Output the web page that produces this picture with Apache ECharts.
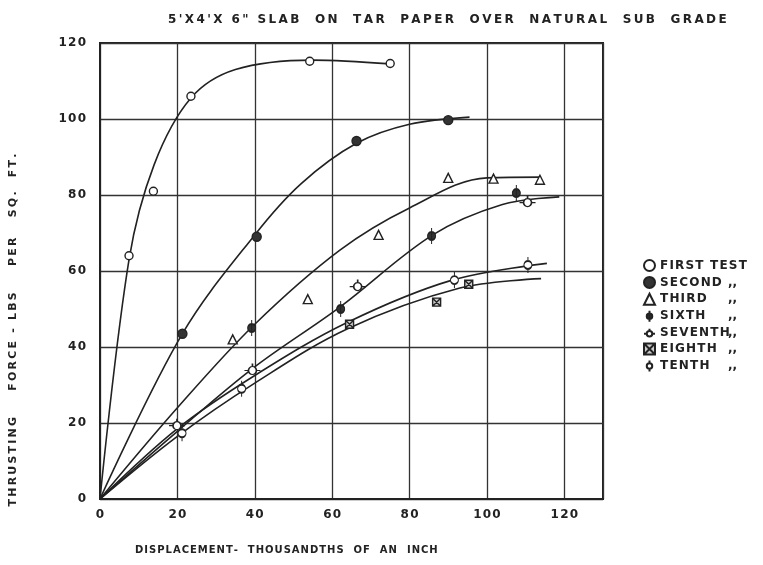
<!DOCTYPE html>
<html>
<head>
<meta charset="utf-8">
<script src="https://cdn.jsdelivr.net/npm/echarts@6/dist/echarts.min.js"></script>
<style>
  html, body { margin: 0; padding: 0; background: #fff; }
  #chart { width: 763px; height: 565px; }
</style>
</head>
<body>
<div id="chart"></div>
<script>
var firstTest   = [[7.5, 64], [13.8, 81], [23.5, 106], [54.2, 115.2], [75, 114.6]];
var secondTest  = [[21.3, 43.5], [40.5, 69], [66.3, 94.2], [90, 99.7]];
var thirdTest   = [[34.3, 42], [53.7, 52.6], [72, 69.5], [90, 84.5], [101.7, 84.3], [113.7, 84]];
var sixthTest   = [[39.2, 45], [62.2, 50], [85.7, 69.2], [107.6, 80.5]];
var seventhTest = [[19.9, 19.7], [39.4, 34.2], [66.6, 56.3], [110.5, 78.4]];
var eighthTest  = [[64.5, 46], [87, 51.8], [95.3, 56.5]];
var tenthTest   = [[21.2, 17.3], [36.6, 29], [91.6, 57.6], [110.6, 61.6]];

// faired curves drawn through the points
var firstCurve  = [[0, 0], [7.5, 63], [14, 88], [23.5, 105.5], [35, 113], [55, 115.5], [75, 114.5]];
var secondCurve = [[0, 0], [21.3, 43.5], [40, 69.5], [52, 83], [66.3, 93.6], [80, 98.6], [95.5, 100.5]];
var thirdCurve  = [[0, 0], [20, 24], [40, 46], [62, 65.5], [80, 76.6], [100, 84.5], [114, 84.7]];
var sixthCurve  = [[0, 0], [20, 17.8], [39.5, 34.4], [62, 50.5], [86, 69.5], [104, 77.5], [118.7, 79.5]];
var tenthCurve  = [[0, 0], [20, 18.5], [40, 32.5], [64, 46.5], [91, 57.6], [115.5, 62]];
var eighthCurve = [[0, 0], [20, 16.5], [40, 30.5], [64, 44.8], [93, 55.5], [114, 58]];

var xTicks = [0, 20, 40, 60, 80, 100, 120];
var yTicks = [0, 20, 40, 60, 80, 100, 120];

var ink = '#222';
var font = '"DejaVu Sans", sans-serif';

// the lettering on the original is widely spaced
function spaced(s, gap) {
    return s.split('').join(gap || '\u200A');
}

var symFilledBar = 'path://M0,-8 L0,8 M-4,0 A4,4 0 1,0 4,0 A4,4 0 1,0 -4,0 Z';
var symHorizBar = 'path://M-8,0 L-4,0 M4,0 L8,0 M0,-4 L0,-7 M-4,0 A4,4 0 1,0 4,0 A4,4 0 1,0 -4,0 Z';
var symBox = 'path://M-4,-4 L4,-4 L4,4 L-4,4 Z M-4,-4 L4,4 M4,-4 L-4,4';
var symStem = 'path://M0,-8 L0,-4 M0,4 L0,8 M-4,0 A4,4 0 1,0 4,0 A4,4 0 1,0 -4,0 Z';

function curve(data) {
    return {
        type: 'line', data: data, smooth: 0.35,
        symbol: 'none', silent: true, z: 2,
        lineStyle: { color: ink, width: 1.6 }
    };
}
function points(name, data, symbol, size, fill) {
    return {
        name: name, type: 'scatter', data: data, symbol: symbol, symbolSize: size, z: 3,
        itemStyle: { color: fill, borderColor: ink, borderWidth: 1.4, opacity: 1 }
    };
}

var legendNames = ['FIRST TEST', 'SECOND', 'THIRD', 'SIXTH', 'SEVENTH', 'EIGHTH', 'TENTH'];
var legendIcons = ['circle', 'circle', 'triangle', symFilledBar, symHorizBar, symBox, symStem];

var chart = echarts.init(document.getElementById('chart'));
var option = {
    backgroundColor: '#fff',
    animation: false,
    title: {
        text: spaced('5\'X4\'X 6" SLAB  ON  TAR  PAPER  OVER  NATURAL  SUB  GRADE', '\u2009'),
        left: 163, top: 9,
        textStyle: { fontFamily: font, fontSize: 12, fontWeight: 'bold', color: ink }
    },
    grid: { left: 100, right: 160, top: 43, bottom: 66, show: true, borderColor: ink, borderWidth: 2 },
    xAxis: {
        type: 'value', min: 0, max: 130, interval: 20,
        axisLine: { lineStyle: { color: ink, width: 2 } },
        axisTick: { show: false },
        splitLine: { lineStyle: { color: '#333', width: 1.3 } },
        axisLabel: {
            margin: 10, color: ink, fontFamily: font, fontSize: 12, fontWeight: 'bold',
            formatter: function (v) { return xTicks.indexOf(v) >= 0 ? spaced(String(v), '\u200A') : ''; }
        }
    },
    yAxis: {
        type: 'value', min: 0, max: 120, interval: 20,
        axisLine: { show: true, lineStyle: { color: ink, width: 2 } },
        axisTick: { show: false },
        splitLine: { lineStyle: { color: '#333', width: 1.3 } },
        axisLabel: {
            margin: 14, color: ink, fontFamily: font, fontSize: 12, fontWeight: 'bold',
            formatter: function (v) { return yTicks.indexOf(v) >= 0 ? spaced(String(v), '\u200A') : ''; }
        }
    },
    legend: {
        orient: 'vertical', left: 638, top: 254, itemWidth: 11, itemHeight: 11, itemGap: 3.9,
        selectedMode: false,
        data: legendNames.map(function (n, i) { return { name: n, icon: legendIcons[i] }; }),
        formatter: function (name) {
            var d = name === 'FIRST TEST' ? '' : ',,';
            return '{n|' + spaced(name, '\u200A') + '}{d|' + d + '}';
        },
        textStyle: {
            rich: {
                n: { fontFamily: font, fontSize: 12, fontWeight: 'bold', color: ink, width: 68 },
                d: { fontFamily: font, fontSize: 12, fontWeight: 'bold', color: ink }
            }
        }
    },
    graphic: [
        {
            type: 'text', left: 135, top: 545,
            style: { text: spaced('DISPLACEMENT-  THOUSANDTHS  OF  AN  INCH', '\u200A'), fill: ink, font: 'bold 10px ' + font }
        },
        {
            type: 'text', x: 8, y: 330, rotation: Math.PI / 2,
            style: { text: spaced('THRUSTING    FORCE - LBS    PER   SQ.  FT.', '\u2009'), fill: ink, font: 'bold 11px ' + font, align: 'center', verticalAlign: 'top' }
        }
    ],
    series: [
        curve(firstCurve), curve(secondCurve), curve(thirdCurve),
        curve(sixthCurve), curve(tenthCurve), curve(eighthCurve),
        points('FIRST TEST', firstTest, 'circle', 8, '#fff'),
        points('SECOND', secondTest, 'circle', 9, '#333'),
        points('THIRD', thirdTest, 'triangle', 9, '#fff'),
        points('SIXTH', sixthTest, symFilledBar, [8, 16], '#333'),
        points('SEVENTH', seventhTest, symHorizBar, [16, 11], '#fff'),
        points('EIGHTH', eighthTest, symBox, 8, '#ccc'),
        points('TENTH', tenthTest, symStem, [8, 16], '#fff')
    ]
};
chart.setOption(option);
</script>
</body>
</html>
